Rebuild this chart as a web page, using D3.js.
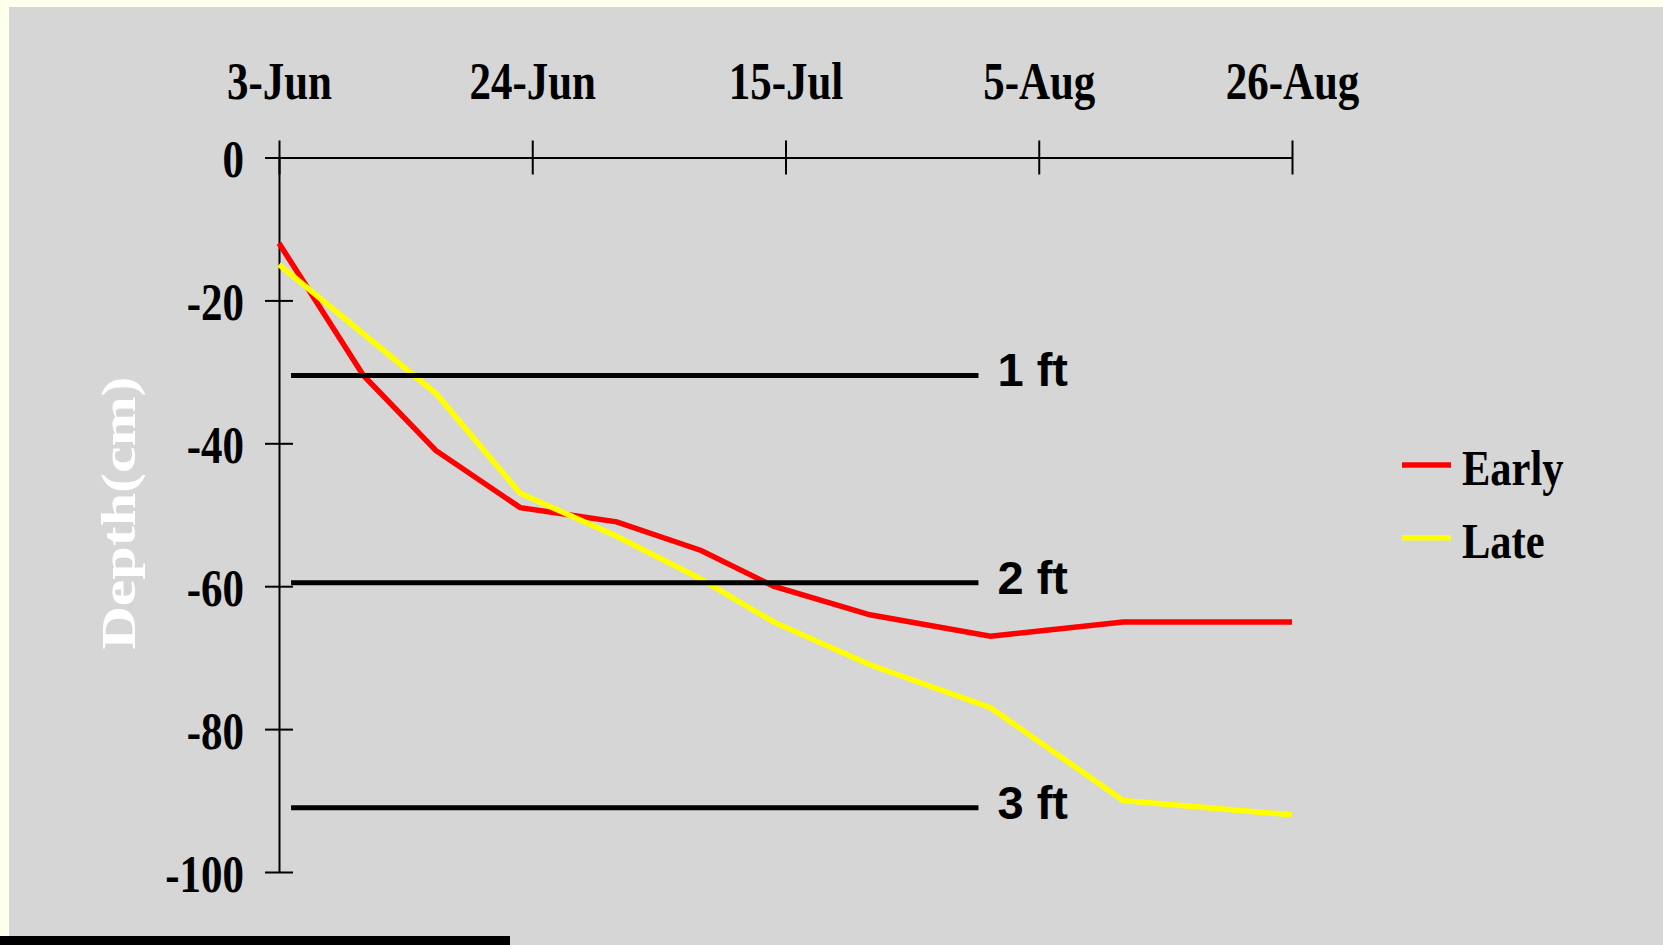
<!DOCTYPE html>
<html>
<head>
<meta charset="utf-8">
<script src="https://cdn.jsdelivr.net/npm/d3@7"></script>
<style>
  html, body { margin: 0; padding: 0; background: #ffffee; }
  svg { display: block; }
</style>
</head>
<body>
<div id="chart"></div>
<script>
// rooting depth chart: early vs late planting

const earlyDates = ["2000-06-03", "2000-06-10", "2000-06-16", "2000-06-23", "2000-07-01", "2000-07-08", "2000-07-14", "2000-07-22", "2000-08-01", "2000-08-12", "2000-08-26"];
const earlyDepth = [-12, -30.5, -41, -49, -51, -55, -60, -64, -67, -65, -65];

const lateDates = ["2000-06-03", "2000-06-16", "2000-06-23", "2000-07-01", "2000-07-08", "2000-07-14", "2000-07-22", "2000-08-01", "2000-08-12", "2000-08-26"];
const lateDepth = [-15, -33, -47, -53, -59, -65, -71, -77, -90, -92];

const xTickDates = ["2000-06-03", "2000-06-24", "2000-07-15", "2000-08-05", "2000-08-26"];
const yTicks = [0, -20, -40, -60, -80, -100];

const refLabels = ["1 ft", "2 ft", "3 ft"];
const refDepth = [-30.5, -59.5, -91];
const refFrom = "2000-06-04";
const refTo = "2000-07-31";

const seriesNames = ["Early", "Late"];
const seriesColours = ["#ff0000", "#ffff00"];

(function () {
  const W = 1663, H = 945;
  const serif = "'Liberation Serif', 'Times New Roman', serif";
  const sans = "'Liberation Sans', Arial, sans-serif";
  const squeeze = 0.81; // the original text looks horizontally condensed
  const parse = d3.timeParse("%Y-%m-%d");

  const svg = d3.select("#chart").append("svg")
    .attr("width", W).attr("height", H);

  svg.append("rect").attr("width", W).attr("height", H).attr("fill", "#ffffee");
  svg.append("rect").attr("x", 9).attr("y", 7).attr("width", W - 9).attr("height", H - 7).attr("fill", "#d6d6d6");

  const x = d3.scaleTime()
    .domain([parse(xTickDates[0]), parse(xTickDates[xTickDates.length - 1])])
    .range([279, 1292]);
  const y = d3.scaleLinear().domain([0, -100]).range([157.5, 872]);

  // x axis sits on top
  const gx = svg.append("g")
    .attr("transform", `translate(0,${y(0)})`)
    .call(d3.axisTop(x)
      .tickValues(xTickDates.map(parse))
      .tickFormat(d3.timeFormat("%-d-%b"))
      .tickSizeOuter(0));
  gx.selectAll(".tick line").attr("y1", -17).attr("y2", 17);
  gx.selectAll(".tick text")
    .attr("y", null).attr("dy", null)
    .attr("transform", `translate(0,-58.5) scale(${squeeze},1)`)
    .style("font-family", serif).style("font-weight", "bold").style("font-size", "53px")
    .attr("fill", "#000");

  const gy = svg.append("g")
    .attr("transform", `translate(${x.range()[0]},0)`)
    .call(d3.axisLeft(y).tickValues(yTicks).tickFormat((d) => String(d)).tickSizeOuter(0));
  gy.selectAll(".tick line").attr("x1", -14).attr("x2", 14);
  gy.selectAll(".tick text")
    .attr("x", null).attr("dy", null)
    .attr("transform", `translate(-35,19) scale(${squeeze},1)`)
    .style("font-family", serif).style("font-weight", "bold").style("font-size", "53px")
    .attr("fill", "#000");

  svg.selectAll(".domain, .tick line").attr("stroke", "#000").attr("stroke-width", 2);

  svg.append("text")
    .attr("transform", `translate(135,513) rotate(-90) scale(1,${squeeze})`)
    .attr("text-anchor", "middle")
    .style("font-family", serif).style("font-weight", "bold").style("font-size", "60px")
    .attr("fill", "#ffffff")
    .text("Depth(cm)");

  const line = d3.line().x((d) => x(d.date)).y((d) => y(d.depth));
  const series = [
    earlyDates.map((d, i) => ({ date: parse(d), depth: earlyDepth[i] })),
    lateDates.map((d, i) => ({ date: parse(d), depth: lateDepth[i] }))
  ];

  svg.selectAll("path.series")
    .data(series)
    .join("path")
    .attr("class", "series")
    .attr("d", line)
    .attr("fill", "none")
    .attr("stroke", (d, i) => seriesColours[i])
    .attr("stroke-width", 5.5);

  // foot markers
  svg.selectAll("line.ref")
    .data(refDepth)
    .join("line")
    .attr("class", "ref")
    .attr("x1", x(parse(refFrom)))
    .attr("x2", x(parse(refTo)))
    .attr("y1", (d) => y(d))
    .attr("y2", (d) => y(d))
    .attr("stroke", "#000")
    .attr("stroke-width", 5);

  svg.selectAll("text.ref")
    .data(refDepth)
    .join("text")
    .attr("class", "ref")
    .attr("x", x(parse(refTo)) + 19)
    .attr("y", (d) => y(d) + 11)
    .style("font-family", sans).style("font-weight", "bold").style("font-size", "47px")
    .attr("fill", "#000")
    .text((d, i) => refLabels[i]);

  const legend = svg.append("g").attr("transform", "translate(1402,465)");
  const items = legend.selectAll("g")
    .data(seriesNames)
    .join("g")
    .attr("transform", (d, i) => `translate(0,${i * 72.7})`);
  items.append("line")
    .attr("x1", 0).attr("x2", 49)
    .attr("stroke", (d, i) => seriesColours[i])
    .attr("stroke-width", 5.5);
  items.append("text")
    .attr("transform", `translate(60,20) scale(0.85,1)`)
    .style("font-family", serif).style("font-weight", "bold").style("font-size", "50px")
    .attr("fill", "#000")
    .text((d) => d);

  svg.append("rect").attr("x", 0).attr("y", 936).attr("width", 510).attr("height", 9).attr("fill", "#000");
})();
</script>
</body>
</html>
